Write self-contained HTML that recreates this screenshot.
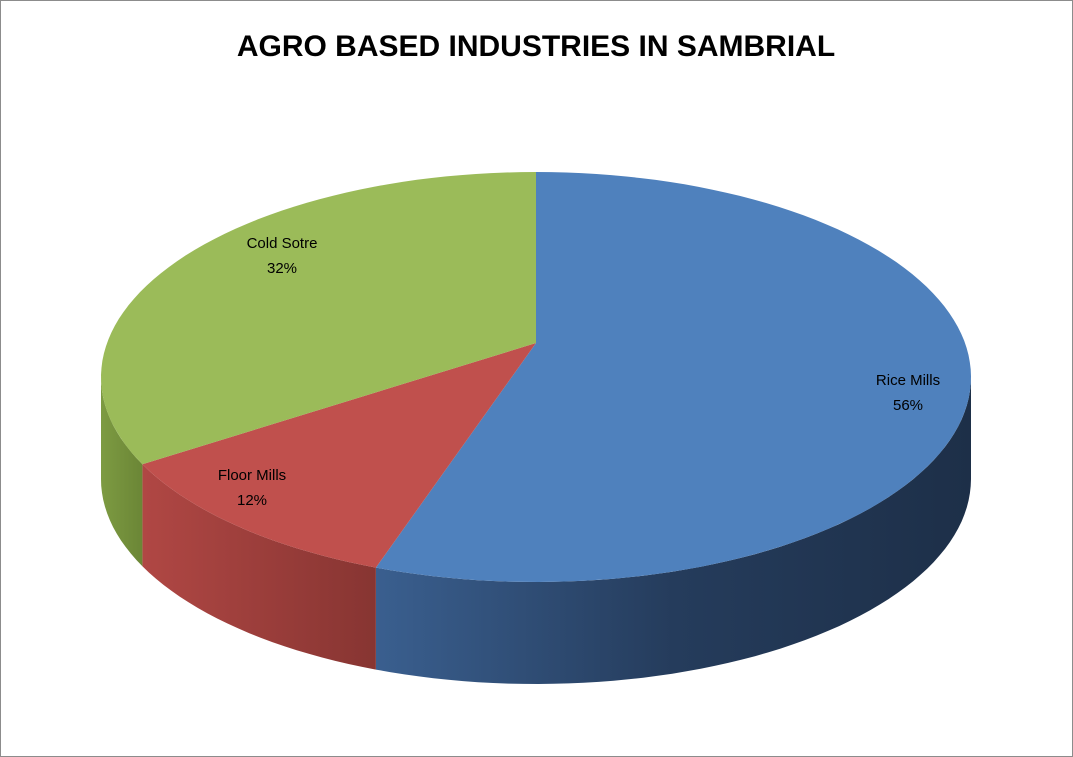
<!DOCTYPE html>
<html><head><meta charset="utf-8"><style>
html,body{margin:0;padding:0;background:#fff}
svg{display:block}
text{font-family:"Liberation Sans",sans-serif}
</style></head><body>
<svg id="chart" width="1073" height="757" viewBox="0 0 1073 757">
<defs>
<linearGradient id="gBlue" x1="0" x2="1" y1="0" y2="0"><stop offset="0" stop-color="#3a5f8f"/><stop offset="0.5" stop-color="#253c5c"/><stop offset="1" stop-color="#1d2f48"/></linearGradient>
<linearGradient id="gRed" x1="0" x2="1" y1="0" y2="0"><stop offset="0" stop-color="#b04744"/><stop offset="1" stop-color="#873532"/></linearGradient>
<linearGradient id="gGreen" x1="0" x2="1" y1="0" y2="0"><stop offset="0" stop-color="#7d9b42"/><stop offset="1" stop-color="#6b8636"/></linearGradient>
</defs>
<rect x="0.5" y="0.5" width="1072" height="756" fill="#fff" stroke="#8c8c8c"/>
<text x="536" y="56" text-anchor="middle" font-size="30" font-weight="bold" fill="#000">AGRO BASED INDUSTRIES IN SAMBRIAL</text>
<g id="slices"></g>
<g id="labels"></g>
</svg>
<script>
const categories = ["Rice Mills", "Floor Mills", "Cold Sotre"];
const values = [56, 12, 32];
const pctLabels = ["56%", "12%", "32%"];

const cx = 536, cy = 377, rx = 435, ry = 205, depth = 102, apexY = 343;
const topFill = ["#4f81bd", "#c0504d", "#9bbb59"];
const sideFill = ["url(#gBlue)", "url(#gRed)", "url(#gGreen)"];
const labelPos = [[908, 385], [252, 480], [282, 248]];
const NS = "http://www.w3.org/2000/svg";
const gS = document.getElementById("slices"), gL = document.getElementById("labels");
function pt(t, dy){ const r = t*Math.PI/180; return [cx + rx*Math.sin(r), cy - ry*Math.cos(r) + (dy||0)]; }
function arc(t1, t2, dy){ const a=[]; const n=Math.max(2,Math.ceil(Math.abs(t2-t1)/2)); for(let i=0;i<=n;i++){ a.push(pt(t1+(t2-t1)*i/n, dy)); } return a; }
const total = values.reduce((a,b)=>a+b,0);
let acc = 0;
const ranges = values.map(v => { const s = acc/total*360; acc += v; return [s, acc/total*360]; });
// sides
ranges.forEach((r, i) => {
  const s = Math.max(r[0], 90), e = Math.min(r[1], 270);
  if (e <= s) return;
  const top = arc(s, e, 0), bot = arc(e, s, depth);
  const p = document.createElementNS(NS, "path");
  p.setAttribute("d", "M" + top.concat(bot).map(q => q[0].toFixed(1)+","+q[1].toFixed(1)).join("L") + "Z");
  p.setAttribute("fill", sideFill[i]);
  
  
  gS.appendChild(p);
});
// tops
ranges.forEach((r, i) => {
  const pts = arc(r[0], r[1], 0);
  const p = document.createElementNS(NS, "path");
  p.setAttribute("d", "M" + cx + "," + apexY + "L" + pts.map(q => q[0].toFixed(1)+","+q[1].toFixed(1)).join("L") + "Z");
  p.setAttribute("fill", topFill[i]);
  
  
  gS.appendChild(p);
});
categories.forEach((c, i) => {
  [c, pctLabels[i]].forEach((s, k) => {
    const t = document.createElementNS(NS, "text");
    t.setAttribute("x", labelPos[i][0]); t.setAttribute("y", labelPos[i][1] + k*25);
    t.setAttribute("text-anchor", "middle"); t.setAttribute("font-size", "15");
    t.setAttribute("fill", "#000");
    t.textContent = s;
    
    
    gL.appendChild(t);
  });
});
</script>
</body></html>
